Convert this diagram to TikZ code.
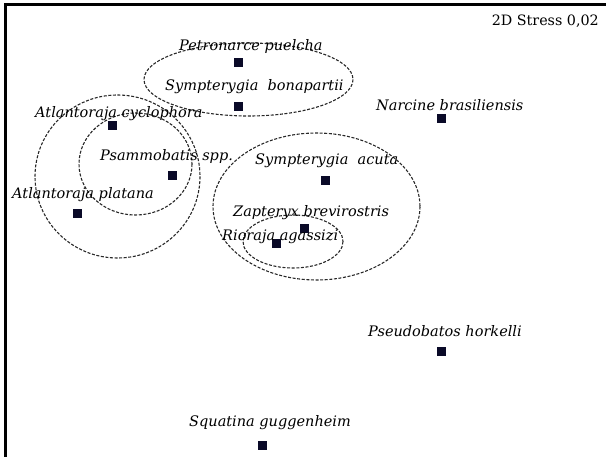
\documentclass[tikz,border=0pt]{standalone}
\usepackage{fontspec}
\setmainfont{DejaVu Serif}
\usepackage{xcolor}
\usetikzlibrary{positioning}
\definecolor{GrisGrupo}{RGB}{40,40,40}
\definecolor{AzulMarca}{RGB}{10,10,40}

\begin{document}
\begin{tikzpicture}[x=1pt,y=-1pt,
  marca/.style={rectangle,fill=AzulMarca,inner sep=0pt,minimum size=9pt},
  especie/.style={anchor=west,inner sep=0pt,font=\itshape\fontsize{14.5}{16}\selectfont},
  grupo/.style={draw=GrisGrupo,line width=1.1pt,dash pattern=on 3pt off 1.6pt}]
  \useasboundingbox (0,0) rectangle (606,457);
  \draw[line width=3pt] (5,457)--(5,5)--(606,5);
  \node[anchor=east,inner sep=0pt,font=\fontsize{14.3}{16}\selectfont] (stress) at (599,21) {2D Stress 0,02};
  % grupos
  \draw[grupo] (248.5,79.5) ellipse [x radius=104.5,y radius=36.5];
  \draw[grupo] (117.5,176.5) ellipse [x radius=82.5,y radius=81.5];
  \draw[grupo] (135.5,164) ellipse [x radius=56.5,y radius=51];
  \draw[grupo] (316.5,206.5) ellipse [x radius=103.5,y radius=73.5];
  \draw[grupo] (293,241.5) ellipse [x radius=50,y radius=26.5];
  % especies
  \node[marca] (PP) at (238,63) {};
  \node[especie] (PPt) at (179,47) {Petronarce puelcha};
  \node[marca] (SB) at (238,107) {};
  \node[especie] (SBt) at (165,87) {Sympterygia~~bonapartii};
  \node[marca] (NB) at (441,119) {};
  \node[especie] (NBt) at (376,105) {Narcine brasiliensis};
  \node[marca] (AC) at (112,126) {};
  \node[especie] (ACt) at (35,114) {Atlantoraja cyclophora};
  \node[marca] (PS) at (172,176) {};
  \node[especie] (PSt) at (100,157) {Psammobatis spp.};
  \node[marca] (AP) at (77,214) {};
  \node[especie] (APt) at (12,195) {Atlantoraja platana};
  \node[marca] (SA) at (325,181) {};
  \node[especie] (SAt) at (255,161) {Sympterygia~~acuta};
  \node[marca] (ZB) at (304,229) {};
  \node[especie] (ZBt) at (233,213) {Zapteryx brevirostris};
  \node[marca] (RA) at (276,244) {};
  \node[especie] (RAt) at (222,237) {Rioraja agassizi};
  \node[marca] (PH) at (441,352) {};
  \node[especie] (PHt) at (368,331) {Pseudobatos horkelli};
  \node[marca] (SG) at (262,446) {};
  \node[especie] (SGt) at (189,423) {Squatina guggenheim};
\end{tikzpicture}
\end{document}
